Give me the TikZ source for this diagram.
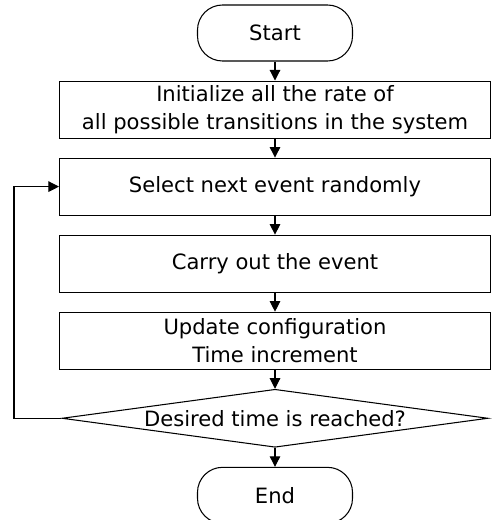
\documentclass[tikz,border=0pt]{standalone}
\usepackage{fontspec}
\setmainfont{DejaVu Sans}
\usepackage{tikz}
\usetikzlibrary{arrows.meta, positioning, shapes.geometric}

\begin{document}
\begin{tikzpicture}[
  term/.style={rectangle, rounded corners=0.5cm, draw, line width=0.6pt,
               minimum width=3.1cm, minimum height=1.12cm, font=\fontsize{12}{16}\selectfont},
  box/.style={rectangle, draw, line width=0.6pt, align=center,
              minimum width=8.62cm, minimum height=1.14cm, inner sep=1pt,
              font=\fontsize{12}{16}\selectfont},
  decision/.style={diamond, draw, line width=0.6pt, aspect=7.3, inner sep=0pt,
                   minimum width=8.52cm, minimum height=1.16cm,
                   font=\fontsize{12}{16}\selectfont},
  arr/.style={-{Triangle[length=6pt, width=6pt]}, line width=0.6pt},
  node distance=0.38cm
]
\useasboundingbox (0,0) rectangle (9.82,-10.4);

% Start
\node[term] (start) at (5.5,-0.66) {Start};

% Steps
\node[box, below=of start] (init) {Initialize all the rate of\\all possible transitions in the system};
\node[box, below=of init] (select) {Select next event randomly};
\node[box, below=of select] (carry) {Carry out the event};
\node[box, below=of carry] (update) {Update configuration\\Time increment};

% Check
\node[decision, below=of update] (check) {Desired time is reached?};

% End
\node[term, below=of check] (stop) {End};

% Arrows
\draw[arr] (start) -- (init);
\draw[arr] (init) -- (select);
\draw[arr] (select) -- (carry);
\draw[arr] (carry) -- (update);
\draw[arr] (update) -- (check);
\draw[arr] (check) -- (stop);

% Loop back
\coordinate (loop) at (0.28,0);
\draw[arr] (check.west) -- (check.west -| loop) |- (select.west);

\end{tikzpicture}
\end{document}
